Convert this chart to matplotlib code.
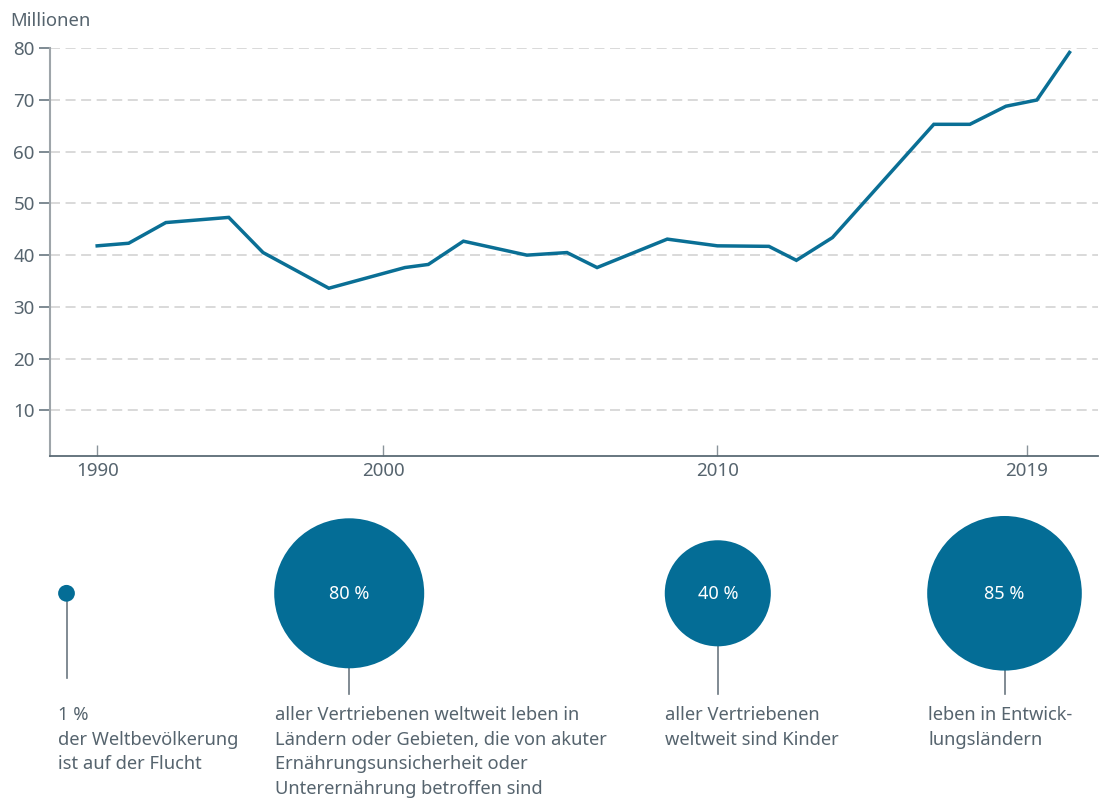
import numpy as np
import matplotlib.pyplot as plt
from matplotlib.patches import Circle

plt.rcParams['font.family'] = ['Noto Sans', 'DejaVu Sans']
plt.rcParams['lines.scale_dashes'] = False

# Gewaltsam Vertriebene weltweit, in Millionen
jahre = [1990.0, 1991.1, 1992.4, 1994.6, 1995.8, 1998.1, 2000.65, 2001.35,
         2002.4, 2004.3, 2005.5, 2006.4, 2008.5, 2010.0, 2011.5, 2012.3,
         2013.35, 2016.3, 2017.35, 2018.4, 2019.3, 2020.25]
millionen = [41.8, 42.3, 46.3, 47.3, 40.5, 33.6, 37.6, 38.2, 42.7, 40.0,
             40.5, 37.6, 43.1, 41.8, 41.7, 39.0, 43.4, 65.3, 65.3, 68.8,
             70.0, 79.2]
tick_jahre = [1990, 2000, 2010, 2019]
tick_werte = [10, 20, 30, 40, 50, 60, 70, 80]

# Kennzahlen unten
anteile = [1, 80, 40, 85]
anteil_texte = ['1 %', '80 %', '40 %', '85 %']
beschreibungen = [
    '1 %\nder Weltbevölkerung\nist auf der Flucht',
    'aller Vertriebenen weltweit leben in\nLändern oder Gebieten, die von akuter\n'
    'Ernährungsunsicherheit oder\nUnterernährung betroffen sind',
    'aller Vertriebenen\nweltweit sind Kinder',
    'leben in Entwick-\nlungsländern',
]

BLAU = '#0a6f95'
KREIS = '#046d96'
TEXT = '#56646e'
GRID = '#cfcfcf'

W, H = 1100, 802
fig = plt.figure(figsize=(W / 100, H / 100), dpi=100)

# the time axis in the original is not evenly spaced, so use a piecewise scale
knot_jahre = [1980, 1990, 2000, 2010, 2019, 2030]
knot_pos = [-286.0, 0.0, 286.0, 620.2, 929.4, 1307.4]


def fwd(x):
    return np.interp(x, knot_jahre, knot_pos)


def inv(p):
    return np.interp(p, knot_pos, knot_jahre)


ax = fig.add_axes([50 / W, 1 - 456.3 / H, (1097.7 - 50) / W, (456.3 - 48.3) / H])
ax.set_xscale('function', functions=(fwd, inv))
ax.set_xlim(1988.35, 2021.07)
ax.set_ylim(1.1, 80)

for v in tick_werte:
    ax.axhline(v, color=GRID, lw=1.1, ls=(0, (7.2, 4.0)), zorder=1)

ax.plot(jahre, millionen, color=BLAU, lw=2.5, solid_joinstyle='miter',
        clip_on=False, zorder=3)

for s in ['top', 'right']:
    ax.spines[s].set_visible(False)
ax.spines['left'].set_color('#9ea5aa')
ax.spines['left'].set_linewidth(1.5)
ax.spines['bottom'].set_color('#5b6b75')
ax.spines['bottom'].set_linewidth(1.3)

ax.set_yticks(tick_werte)
ax.set_yticklabels([str(v) for v in tick_werte])
ax.tick_params(axis='y', direction='out', length=8, width=1.1, color='#5b6b75',
               labelsize=13.5, labelcolor=TEXT, pad=3)
ax.set_xticks(tick_jahre)
ax.set_xticklabels([str(j) for j in tick_jahre])
ax.xaxis.set_minor_locator(plt.NullLocator())
ax.tick_params(axis='x', direction='in', length=8, width=1.0, color='#8a949b',
               labelsize=13.5, labelcolor=TEXT, pad=4)

fig.text(10 / W, 1 - 21 / H, 'Millionen', fontsize=13.3, color=TEXT,
         ha='left', va='center')

# lower part: circles with area proportional to the share
ax2 = fig.add_axes([0, 0, 1, 1], zorder=0)
ax2.set_xlim(0, W)
ax2.set_ylim(H, 0)
ax2.axis('off')

kreis_x = [66.5, 349.2, 717.8, 1004.5]
kreis_y = 593.3
stiel_ende = [678.3, 694.3, 694.3, 694.3]
text_x = [58, 275, 665, 928]
radius_skala = 75 / np.sqrt(80)

for i, p in enumerate(anteile):
    r = radius_skala * np.sqrt(p)
    ax2.plot([kreis_x[i], kreis_x[i]], [kreis_y, stiel_ende[i]],
             color='#6b7780', lw=1.2, zorder=1)
    ax2.add_patch(Circle((kreis_x[i], kreis_y), r, facecolor=KREIS,
                         edgecolor='none', zorder=2))
    if p > 5:
        ax2.text(kreis_x[i], kreis_y + 1, anteil_texte[i], color='white',
                 fontsize=13, ha='center', va='center', zorder=3)
    ax2.text(text_x[i], 706, beschreibungen[i], color=TEXT, fontsize=13.2,
             ha='left', va='top', linespacing=1.47)

fig.savefig('out.png', dpi=100)
